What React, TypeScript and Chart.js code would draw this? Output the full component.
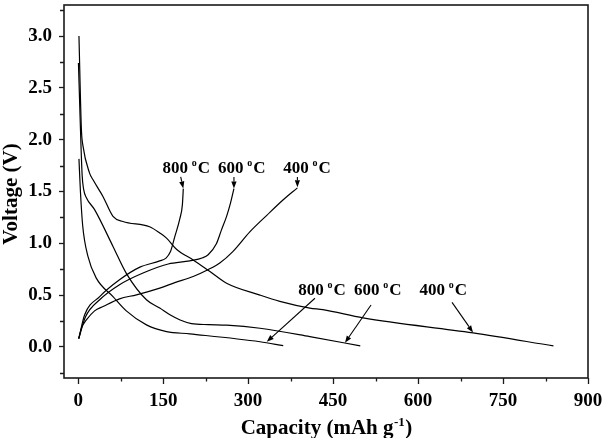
import { useEffect, useRef } from "react";
import { Chart, registerables } from "chart.js";

Chart.register(...registerables);

// Discharge curves: capacity (mAh g-1) and voltage (V)
const dis400Capacity = [1.4, 5.7, 8.5, 20, 26, 44, 61.5, 79, 126, 144, 156, 174, 203, 232, 262, 321, 356, 409, 432, 503, 697, 839];
const dis400Voltage = [3.0, 2.1, 1.94, 1.68, 1.615, 1.45, 1.26, 1.21, 1.16, 1.1, 1.05, 0.94, 0.84, 0.73, 0.615, 0.5, 0.44, 0.375, 0.36, 0.28, 0.135, 0.01];

const dis600Capacity = [0.5, 3.5, 7, 9.7, 14.5, 29, 61.5, 85, 120.5, 144, 162, 180, 200, 230, 262, 321, 409, 498];
const dis600Voltage = [2.74, 2.2, 1.66, 1.52, 1.44, 1.325, 0.97, 0.71, 0.455, 0.375, 0.31, 0.26, 0.225, 0.215, 0.21, 0.18, 0.1, 0.01];

const dis800Capacity = [1.4, 4, 8, 17.3, 32, 61.5, 85, 120.5, 156, 197, 321, 362];
const dis800Voltage = [1.815, 1.5, 1.17, 0.873, 0.664, 0.486, 0.348, 0.213, 0.148, 0.126, 0.05, 0.012];

// Charge curves
const chg800Capacity = [1, 11.5, 38, 73, 109, 144, 155, 163, 170.6, 179.5, 184, 185.6];
const chg800Voltage = [0.08, 0.31, 0.486, 0.648, 0.77, 0.83, 0.857, 0.92, 1.064, 1.238, 1.373, 1.528];

const chg600Capacity = [1, 13, 38, 73, 114.5, 159, 197, 220, 229.5, 244, 253, 262, 269, 275];
const chg600Voltage = [0.08, 0.29, 0.455, 0.6, 0.713, 0.8, 0.83, 0.86, 0.89, 0.996, 1.13, 1.26, 1.39, 1.528];

const chg400Capacity = [1, 6, 14.5, 29, 44, 73, 103, 144, 170.6, 203, 229, 250, 273, 303, 333, 362, 387];
const chg400Voltage = [0.08, 0.184, 0.26, 0.348, 0.39, 0.464, 0.503, 0.568, 0.62, 0.68, 0.745, 0.81, 0.92, 1.11, 1.27, 1.42, 1.535];

// Axis ticks
const xMajorTicks = [0, 150, 300, 450, 600, 750, 900];
const xMinorTicks = [75, 225, 375, 525, 675, 825];
const yMajorTicks = [0, 0.5, 1.0, 1.5, 2.0, 2.5, 3.0];
const yMinorTicks = [-0.25, 0.25, 0.75, 1.25, 1.75, 2.25, 2.75, 3.25];

// Temperature annotations (text anchor = left/baseline, arrows in data units)
const tempLabels = ["800", "600", "400"];
const chargeLabelAt = [[149, 1.683], [247, 1.683], [362, 1.683]];
const chargeArrowFrom = [[181, 1.64], [275, 1.64], [387, 1.64]];
const chargeArrowTo = [[185.6, 1.53], [275, 1.53], [387, 1.54]];
const dischargeLabelAt = [[388.6, 0.503], [487, 0.503], [602.5, 0.503]];
const dischargeArrowFrom = [[418, 0.47], [517, 0.405], [660, 0.43]];
const dischargeArrowTo = [[333, 0.05], [471, 0.04], [697, 0.14]];

const SERIF = '"Liberation Serif", "Times New Roman", serif';

const toPoints = (xs: number[], ys: number[]) => xs.map((x, i) => ({ x, y: ys[i] }));

const curve = (label: string, xs: number[], ys: number[]) => ({
  label,
  data: toPoints(xs, ys),
  borderColor: "#000",
  borderWidth: 1.2,
  pointRadius: 0,
  fill: false,
  cubicInterpolationMode: "monotone" as const,
});

const decorations = {
  id: "decorations",
  afterDraw(chart: any) {
    const { ctx, chartArea: a } = chart;
    const xs = chart.scales.x;
    const ys = chart.scales.y;
    ctx.save();

    // frame
    ctx.strokeStyle = "#1a1a1a";
    ctx.lineWidth = 1.6;
    ctx.strokeRect(a.left, a.top, a.right - a.left, a.bottom - a.top);

    // minor ticks
    ctx.lineWidth = 1.3;
    ctx.beginPath();
    xMinorTicks.forEach((v) => {
      const px = Math.round(xs.getPixelForValue(v)) + 0.5;
      ctx.moveTo(px, a.bottom);
      ctx.lineTo(px, a.bottom + 3.5);
    });
    yMinorTicks.forEach((v) => {
      const py = Math.round(ys.getPixelForValue(v)) + 0.5;
      ctx.moveTo(a.left, py);
      ctx.lineTo(a.left - 4, py);
    });
    ctx.stroke();

    // temperature labels with arrows
    const tempText = (t: string, vx: number, vy: number) => {
      let px = xs.getPixelForValue(vx);
      const py = ys.getPixelForValue(vy);
      ctx.fillStyle = "#000";
      ctx.textAlign = "left";
      ctx.textBaseline = "alphabetic";
      ctx.font = `bold 17px ${SERIF}`;
      ctx.fillText(t + " ", px, py);
      px += ctx.measureText(t + " ").width;
      ctx.font = `bold 10px ${SERIF}`;
      ctx.fillText("o", px - 0.5, py - 7);
      px += ctx.measureText("o").width + 0.5;
      ctx.font = `bold 17px ${SERIF}`;
      ctx.fillText("C", px, py);
    };
    const arrow = (from: number[], to: number[]) => {
      const x0 = xs.getPixelForValue(from[0]);
      const y0 = ys.getPixelForValue(from[1]);
      const x1 = xs.getPixelForValue(to[0]);
      const y1 = ys.getPixelForValue(to[1]);
      const ang = Math.atan2(y1 - y0, x1 - x0);
      const len = 7;
      const hw = 2.6;
      const bx = x1 - len * Math.cos(ang);
      const by = y1 - len * Math.sin(ang);
      ctx.strokeStyle = "#000";
      ctx.lineWidth = 1.1;
      ctx.beginPath();
      ctx.moveTo(x0, y0);
      ctx.lineTo(bx, by);
      ctx.stroke();
      ctx.fillStyle = "#000";
      ctx.beginPath();
      ctx.moveTo(x1, y1);
      ctx.lineTo(bx + hw * Math.sin(ang), by - hw * Math.cos(ang));
      ctx.lineTo(bx - hw * Math.sin(ang), by + hw * Math.cos(ang));
      ctx.closePath();
      ctx.fill();
    };
    tempLabels.forEach((t, i) => {
      tempText(t, chargeLabelAt[i][0], chargeLabelAt[i][1]);
      arrow(chargeArrowFrom[i], chargeArrowTo[i]);
      tempText(t, dischargeLabelAt[i][0], dischargeLabelAt[i][1]);
      arrow(dischargeArrowFrom[i], dischargeArrowTo[i]);
    });

    // axis titles
    ctx.fillStyle = "#000";
    ctx.textBaseline = "alphabetic";
    const mainFont = `bold 21px ${SERIF}`;
    const supFont = `bold 13px ${SERIF}`;
    const partA = "Capacity (mAh g";
    const partB = "-1";
    const partC = ")";
    ctx.font = mainFont;
    const wA = ctx.measureText(partA).width;
    const wC = ctx.measureText(partC).width;
    ctx.font = supFont;
    const wB = ctx.measureText(partB).width;
    const cx = (a.left + a.right) / 2;
    let tx = cx - (wA + wB + wC) / 2;
    const baseY = 434;
    ctx.textAlign = "left";
    ctx.font = mainFont;
    ctx.fillText(partA, tx, baseY);
    tx += wA;
    ctx.font = supFont;
    ctx.fillText(partB, tx + 0.5, baseY - 8);
    tx += wB + 1;
    ctx.font = mainFont;
    ctx.fillText(partC, tx, baseY);

    ctx.translate(17, (a.top + a.bottom) / 2 + 2.5);
    ctx.rotate(-Math.PI / 2);
    ctx.textAlign = "center";
    ctx.font = mainFont;
    ctx.fillText("Voltage (V)", 0, 0);

    ctx.restore();
  },
};

export default function App() {
  const canvasRef = useRef<HTMLCanvasElement>(null);

  useEffect(() => {
    const tickFont = { family: SERIF, size: 19, weight: "bold" as const };
    const chart = new Chart(canvasRef.current!, {
      type: "line",
      data: {
        datasets: [
          curve("400 °C discharge", dis400Capacity, dis400Voltage),
          curve("600 °C discharge", dis600Capacity, dis600Voltage),
          curve("800 °C discharge", dis800Capacity, dis800Voltage),
          curve("800 °C charge", chg800Capacity, chg800Voltage),
          curve("600 °C charge", chg600Capacity, chg600Voltage),
          curve("400 °C charge", chg400Capacity, chg400Voltage),
        ],
      },
      options: {
        animation: false,
        responsive: true,
        maintainAspectRatio: false,
        layout: { padding: { top: 5, right: 18, left: 0, bottom: 0 } },
        plugins: {
          legend: { display: false },
          tooltip: { enabled: false },
          title: { display: false },
        },
        scales: {
          x: {
            type: "linear",
            min: -25,
            max: 900,
            afterBuildTicks: (s: any) => {
              s.ticks = xMajorTicks.map((v) => ({ value: v }));
            },
            afterFit: (s: any) => {
              s.height = 60;
              s.paddingLeft = 0;
              s.paddingRight = 0;
            },
            ticks: {
              callback: (v: any) => String(v),
              maxRotation: 0,
              minRotation: 0,
              autoSkip: false,
              color: "#000",
              font: tickFont,
              padding: 6,
            },
            grid: {
              display: true,
              drawOnChartArea: false,
              drawTicks: true,
              tickLength: 6,
              tickWidth: 1.3,
              tickColor: "#1a1a1a",
            },
            border: { display: false },
          },
          y: {
            type: "linear",
            min: -0.3,
            max: 3.3,
            afterBuildTicks: (s: any) => {
              s.ticks = yMajorTicks.map((v) => ({ value: v }));
            },
            afterFit: (s: any) => {
              s.width = 64;
              s.paddingTop = 0;
              s.paddingBottom = 0;
            },
            ticks: {
              callback: (v: any) => Number(v).toFixed(1),
              color: "#000",
              font: tickFont,
              padding: 7,
            },
            grid: {
              display: true,
              drawOnChartArea: false,
              drawTicks: true,
              tickLength: 5,
              tickWidth: 1.3,
              tickColor: "#1a1a1a",
            },
            border: { display: false },
          },
        },
      },
      plugins: [decorations],
    } as any);
    return () => chart.destroy();
  }, []);

  return (
    <div style={{ position: "fixed", left: 0, top: 0, width: 606, height: 438, background: "#fff" }}>
      <canvas ref={canvasRef} />
    </div>
  );
}
